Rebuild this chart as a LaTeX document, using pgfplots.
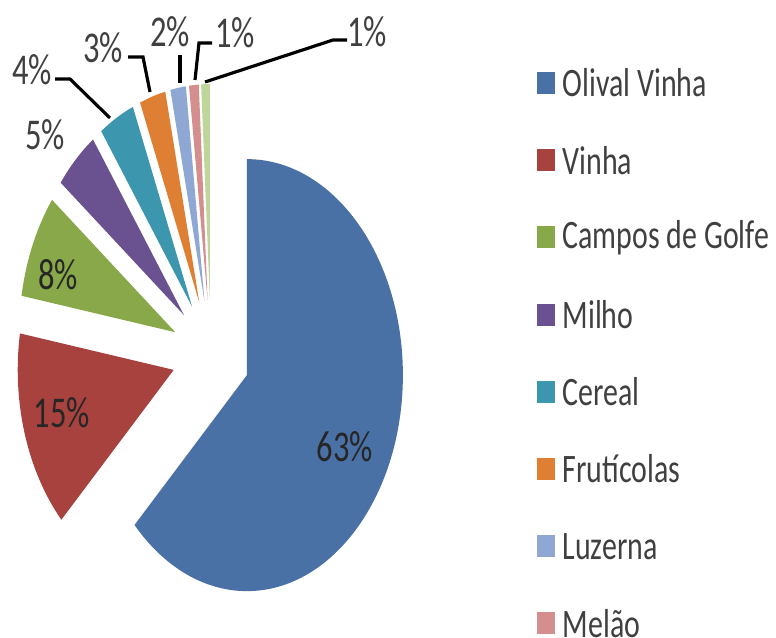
\documentclass[border=0pt]{standalone}
\usepackage{pgfplots}
\usepackage{pgfplotstable}
\pgfplotsset{compat=1.18}
\usepackage{fontspec}
\setmainfont{Carlito}[FakeStretch=0.74]
\definecolor{cA}{HTML}{4A71A5}
\definecolor{cB}{HTML}{A8423F}
\definecolor{cC}{HTML}{88A84A}
\definecolor{cD}{HTML}{6A5190}
\definecolor{cE}{HTML}{3C96AE}
\definecolor{cF}{HTML}{DE7F33}
\definecolor{cG}{HTML}{8EA7D3}
\definecolor{cH}{HTML}{D48E8E}
\definecolor{cI}{HTML}{BFD69A}
\definecolor{txt}{HTML}{404040}
\pgfplotstableread{
value col name
62.8 cA {Olival Vinha}
14.9 cB {Vinha}
7.8 cC {Campos de Golfe}
4.6 cD {Milho}
3.7 cE {Cereal}
2.7 cF {Frutícolas}
1.6 cG {Luzerna}
1.0 cH {Melão}
0.9 cI {Outros}
}\piedata
\begin{document}
\begin{tikzpicture}
\useasboundingbox (0,0) rectangle (7.76cm,6.37cm);
\clip (0,0) rectangle (7.76cm,6.37cm);
\begin{axis}[
  at={(0,0)}, anchor=south west,
  width=7.76cm, height=6.37cm, scale only axis,
  xmin=0, xmax=776, ymin=0, ymax=637,
  hide axis, clip=false,
]
\def\cum{90}
\pgfplotsforeachungrouped \i in {0,...,8}{
  \pgfplotstablegetelem{\i}{value}\of\piedata \let\v\pgfplotsretval
  \pgfplotstablegetelem{\i}{col}\of\piedata \let\c\pgfplotsretval
  \pgfmathsetmacro\aone{\cum}
  \pgfmathsetmacro\atwo{\cum-3.6*\v}
  \pgfmathsetmacro\amid{(\aone+\atwo)/2}
  \pgfmathsetmacro\px{211+0.25*156*cos(\amid)}
  \pgfmathsetmacro\py{283+0.25*216*sin(\amid)}
  \edef\temp{\noexpand\fill[\c] (axis cs:\px,\py) -- ++(\aone:1.56cm and 2.16cm) arc[start angle=\aone, end angle=\atwo, x radius=1.56cm, y radius=2.16cm] -- cycle;}
  \temp
  \global\let\cum\atwo
}
% legend
\pgfplotsforeachungrouped \i in {0,...,7}{
  \pgfplotstablegetelem{\i}{col}\of\piedata \let\c\pgfplotsretval
  \pgfplotstablegetelem{\i}{name}\of\piedata \let\n\pgfplotsretval
  \pgfmathsetmacro\ly{637-83-77.2*\i}
  \pgfmathsetmacro\lyb{\ly-11}
  \pgfmathsetmacro\lyt{\ly+11}
  \edef\temp{\noexpand\fill[\c] (axis cs:537,\lyb) rectangle (axis cs:555,\lyt);
    \noexpand\node[anchor=west, inner sep=0pt, text=txt, font=\noexpand\fontsize{11.5}{13}\noexpand\selectfont] at (axis cs:562,\ly) {\n};}
  \temp
}
% inner labels
\node[font=\fontsize{12.5}{14}\selectfont, text=black!85] at (axis cs:345,190) {63\%};
\node[font=\fontsize{12.5}{14}\selectfont, text=black!85] at (axis cs:62,224) {15\%};
\node[font=\fontsize{12.5}{14}\selectfont, text=black!85] at (axis cs:58,362) {8\%};
% outer labels
\node[font=\fontsize{12.5}{14}\selectfont, text=txt] at (axis cs:45,502) {5\%};
\node[font=\fontsize{12.5}{14}\selectfont, text=txt] at (axis cs:32,567) {4\%};
\node[font=\fontsize{12.5}{14}\selectfont, text=txt] at (axis cs:103,589) {3\%};
\node[font=\fontsize{12.5}{14}\selectfont, text=txt] at (axis cs:170,605) {2\%};
\node[font=\fontsize{12.5}{14}\selectfont, text=txt] at (axis cs:235,604) {1\%};
\node[font=\fontsize{12.5}{14}\selectfont, text=txt] at (axis cs:367,605) {1\%};
% leader lines
\draw[line width=0.9pt] (axis cs:55,558) -- (axis cs:70,558) -- (axis cs:110,519);
\draw[line width=0.9pt] (axis cs:128,580) -- (axis cs:143,580) -- (axis cs:150,545);
\draw[line width=0.9pt] (axis cs:180,582) -- (axis cs:180,554);
\draw[line width=0.9pt] (axis cs:212,594) -- (axis cs:199,594) -- (axis cs:195,557);
\draw[line width=0.9pt] (axis cs:347,597) -- (axis cs:333,597) -- (axis cs:205,555);
\end{axis}
\end{tikzpicture}
\end{document}
